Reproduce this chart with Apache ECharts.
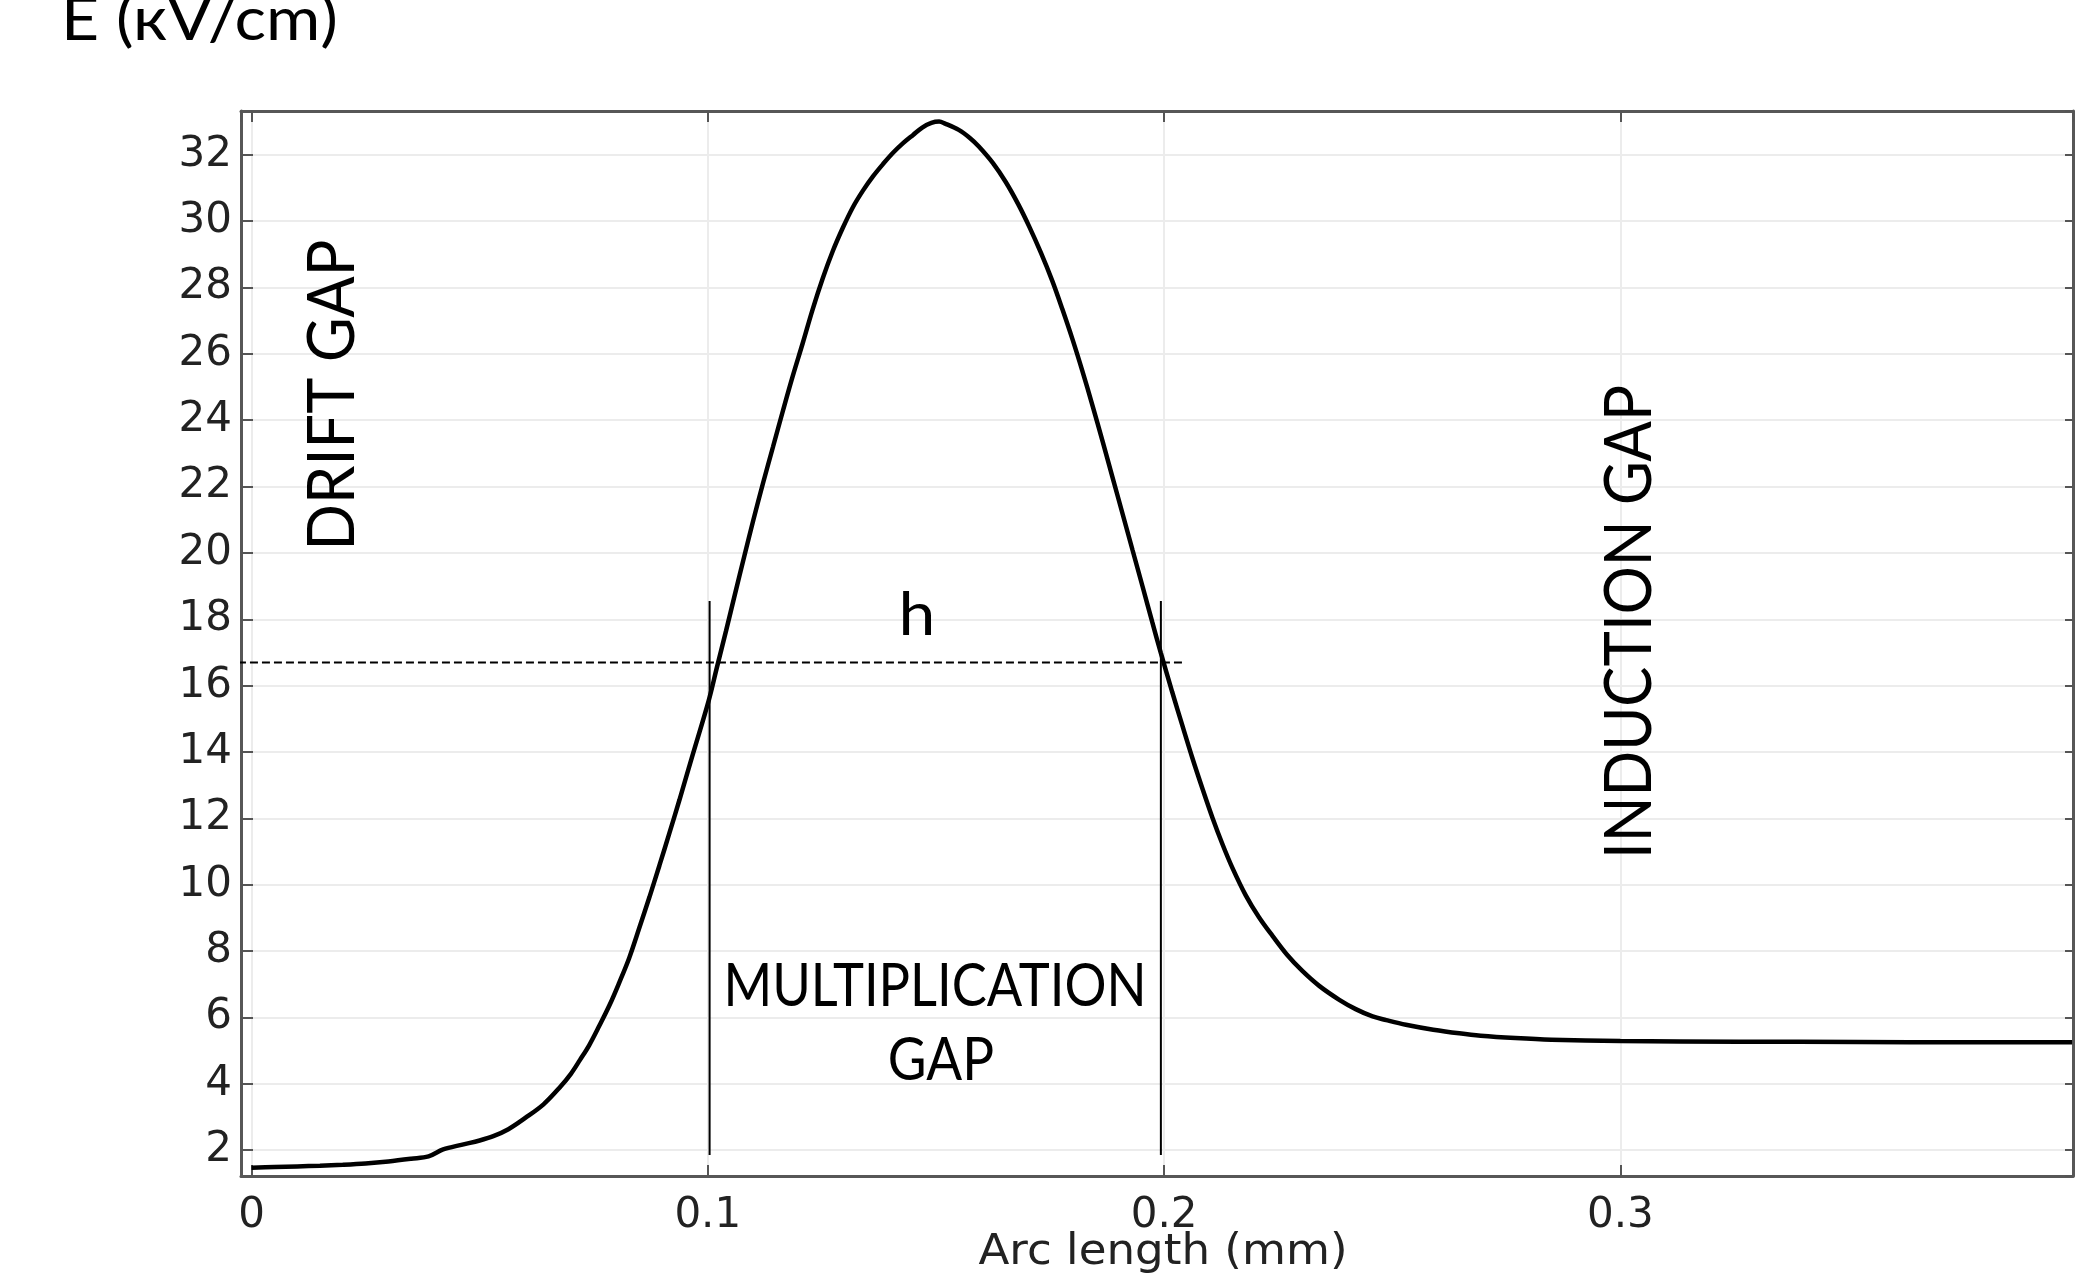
<!DOCTYPE html>
<html>
<head>
<meta charset="utf-8">
<script src="https://cdn.jsdelivr.net/npm/echarts@6/dist/echarts.min.js"></script>
<style>
html,body{margin:0;padding:0;background:#fff;}
#chart{width:2075px;height:1276px;}
</style>
</head>
<body>
<div id="chart"></div>
<script>
// Arc length (mm)
const arcLength = [
  0.0000, 0.0050, 0.0100, 0.0150, 0.0200, 0.0250, 0.0300, 0.0350, 0.0388, 0.0420,
  0.0460, 0.0500, 0.0530, 0.0563, 0.0600, 0.0640, 0.0675, 0.0700, 0.0720, 0.0740,
  0.0762, 0.0785, 0.0806, 0.0828, 0.0850, 0.0872, 0.0894, 0.0916, 0.0938, 0.0967,
  0.1002, 0.1020, 0.1040, 0.1060, 0.1080, 0.1100, 0.1121, 0.1143, 0.1165, 0.1186,
  0.1208, 0.1230, 0.1252, 0.1274, 0.1296, 0.1318, 0.1340, 0.1362, 0.1384, 0.1406,
  0.1428, 0.1450, 0.1470, 0.1490, 0.1507, 0.1520, 0.1550, 0.1575, 0.1594, 0.1625,
  0.1653, 0.1680, 0.1704, 0.1730, 0.1755, 0.1777, 0.1799, 0.1821, 0.1843, 0.1865,
  0.1887, 0.1909, 0.1931, 0.1953, 0.1974, 0.1993, 0.2018, 0.2040, 0.2062, 0.2084,
  0.2106, 0.2128, 0.2150, 0.2179, 0.2208, 0.2238, 0.2270, 0.2303, 0.2340, 0.2384,
  0.2420, 0.2457, 0.2487, 0.2530, 0.2590, 0.2647, 0.2694, 0.2770, 0.2849, 0.3000,
  0.3260, 0.3520, 0.3750, 0.3990
];
// E (kV/cm)
const fieldE = [
  1.47, 1.49, 1.51, 1.53, 1.56, 1.60, 1.66, 1.74, 1.81, 2.02,
  2.16, 2.29, 2.42, 2.63, 2.97, 3.38, 3.88, 4.30, 4.72, 5.16,
  5.74, 6.38, 7.05, 7.80, 8.70, 9.62, 10.58, 11.56, 12.56, 13.92,
  15.55, 16.55, 17.65, 18.78, 19.90, 21.00, 22.10, 23.20, 24.30, 25.32,
  26.32, 27.35, 28.28, 29.10, 29.80, 30.42, 30.92, 31.35, 31.72, 32.06,
  32.35, 32.60, 32.82, 32.96, 33.00, 32.94, 32.75, 32.50, 32.25, 31.75,
  31.18, 30.52, 29.85, 29.05, 28.20, 27.35, 26.45, 25.48, 24.45, 23.38,
  22.28, 21.18, 20.08, 18.98, 17.92, 16.98, 15.80, 14.80, 13.82, 12.90,
  12.02, 11.22, 10.50, 9.68, 9.02, 8.45, 7.88, 7.40, 6.95, 6.53,
  6.25, 6.03, 5.92, 5.78, 5.63, 5.52, 5.45, 5.38, 5.33, 5.29,
  5.27, 5.26, 5.25, 5.25
];
// annotation values (data units)
const hLevel = 16.7;
const hLineSpan = [-0.0056, 0.2040];
const gapEdges = [0.1004, 0.1993];
const gapLineSpan = [1.85, 18.55];
// axis ranges and tick step
const xRange = [-0.0023, 0.3992];
const yRange = [1.22, 33.32];
const xStep = 0.1;
const yStep = 2;

const curve = arcLength.map((x, i) => [x, fieldE[i]]);
const hLine = hLineSpan.map(x => [x, hLevel]);
const edgeLines = gapEdges.map(x => gapLineSpan.map(y => [x, y]));

const tickFont = 'DejaVu Sans';
const annFont = 'Lato';
const annSize = 60;

const chart = echarts.init(document.getElementById('chart'));

function txt(text, x, y, rot, sx, sy, font, align, color) {
  return {
    type: 'text', x: x, y: y,
    rotation: rot ? Math.PI / 2 : 0,
    scaleX: sx, scaleY: sy,
    silent: true, z: 100,
    style: {
      text: text, fill: color || '#000',
      font: font || (annSize + 'px ' + annFont),
      align: align || 'center', verticalAlign: 'middle',
      textAlign: align || 'center', textVerticalAlign: 'middle'
    }
  };
}

const edgeLine = { show: true, onZero: false, lineStyle: { color: '#575757', width: 3 } };
const tickStyle = { color: '#555', width: 2 };

chart.setOption({
  animation: false,
  backgroundColor: '#fff',
  grid: {
    left: 241, right: 2, top: 111, bottom: 100,
    containLabel: false, outerBoundsMode: 'none', show: false
  },
  xAxis: [{
    type: 'value', position: 'bottom',
    min: xRange[0], max: xRange[1],
    splitNumber: 4, minInterval: xStep, maxInterval: xStep,
    axisLine: edgeLine,
    axisTick: { show: true, inside: true, length: 11, lineStyle: tickStyle },
    axisLabel: { fontFamily: tickFont, fontSize: 42, color: '#222', margin: 19, showMinLabel: false, showMaxLabel: false },
    splitLine: { show: true, lineStyle: { color: '#ececec', width: 2 } }
  }, {
    type: 'value', position: 'top',
    min: xRange[0], max: xRange[1],
    splitNumber: 4, minInterval: xStep, maxInterval: xStep,
    axisLine: edgeLine,
    axisTick: { show: true, inside: true, length: 11, lineStyle: tickStyle },
    axisLabel: { show: false }, splitLine: { show: false }
  }],
  yAxis: [{
    type: 'value', position: 'left',
    min: yRange[0], max: yRange[1],
    splitNumber: 16, minInterval: yStep, maxInterval: yStep,
    axisLine: edgeLine,
    axisTick: { show: true, inside: true, length: 12, lineStyle: tickStyle },
    axisLabel: { fontFamily: tickFont, fontSize: 42, color: '#222', margin: 9, showMinLabel: false, showMaxLabel: false },
    splitLine: { show: true, lineStyle: { color: '#ececec', width: 2 } }
  }, {
    type: 'value', position: 'right',
    min: yRange[0], max: yRange[1],
    splitNumber: 16, minInterval: yStep, maxInterval: yStep,
    axisLine: edgeLine,
    axisTick: { show: true, inside: true, length: 8, lineStyle: tickStyle },
    axisLabel: { show: false }, splitLine: { show: false }
  }],
  series: [{
    type: 'line', data: curve, showSymbol: false, symbol: 'none', smooth: 0.35,
    lineStyle: { color: '#000', width: 4.5 }, silent: true, z: 5
  }, {
    type: 'line', data: hLine, symbol: 'none', clip: false, silent: true, z: 6,
    lineStyle: { color: '#000', width: 2, type: [8, 4] }
  }, {
    type: 'line', data: edgeLines[0], symbol: 'none', clip: false, silent: true, z: 6,
    lineStyle: { color: '#000', width: 2 }
  }, {
    type: 'line', data: edgeLines[1], symbol: 'none', clip: false, silent: true, z: 6,
    lineStyle: { color: '#000', width: 2 }
  }],
  graphic: [
    txt('E (кV/cm)', 61, 21, false, 1.1, 1, null, 'left'),
    txt('DRIFT GAP', 333, 395, true, 1.02, 1.1),
    txt('INDUCTION GAP', 1630, 622, true, 1.0, 1.1),
    txt('h', 917, 616, false, 1.1, 1),
    txt('MULTIPLICATION', 935, 987, false, 0.875, 1),
    txt('GAP', 941, 1061, false, 0.885, 1),
    txt('Arc length (mm)', 1163, 1253, false, 1.075, 1, '42px ' + tickFont, 'center', '#222')
  ]
});
</script>
</body>
</html>
